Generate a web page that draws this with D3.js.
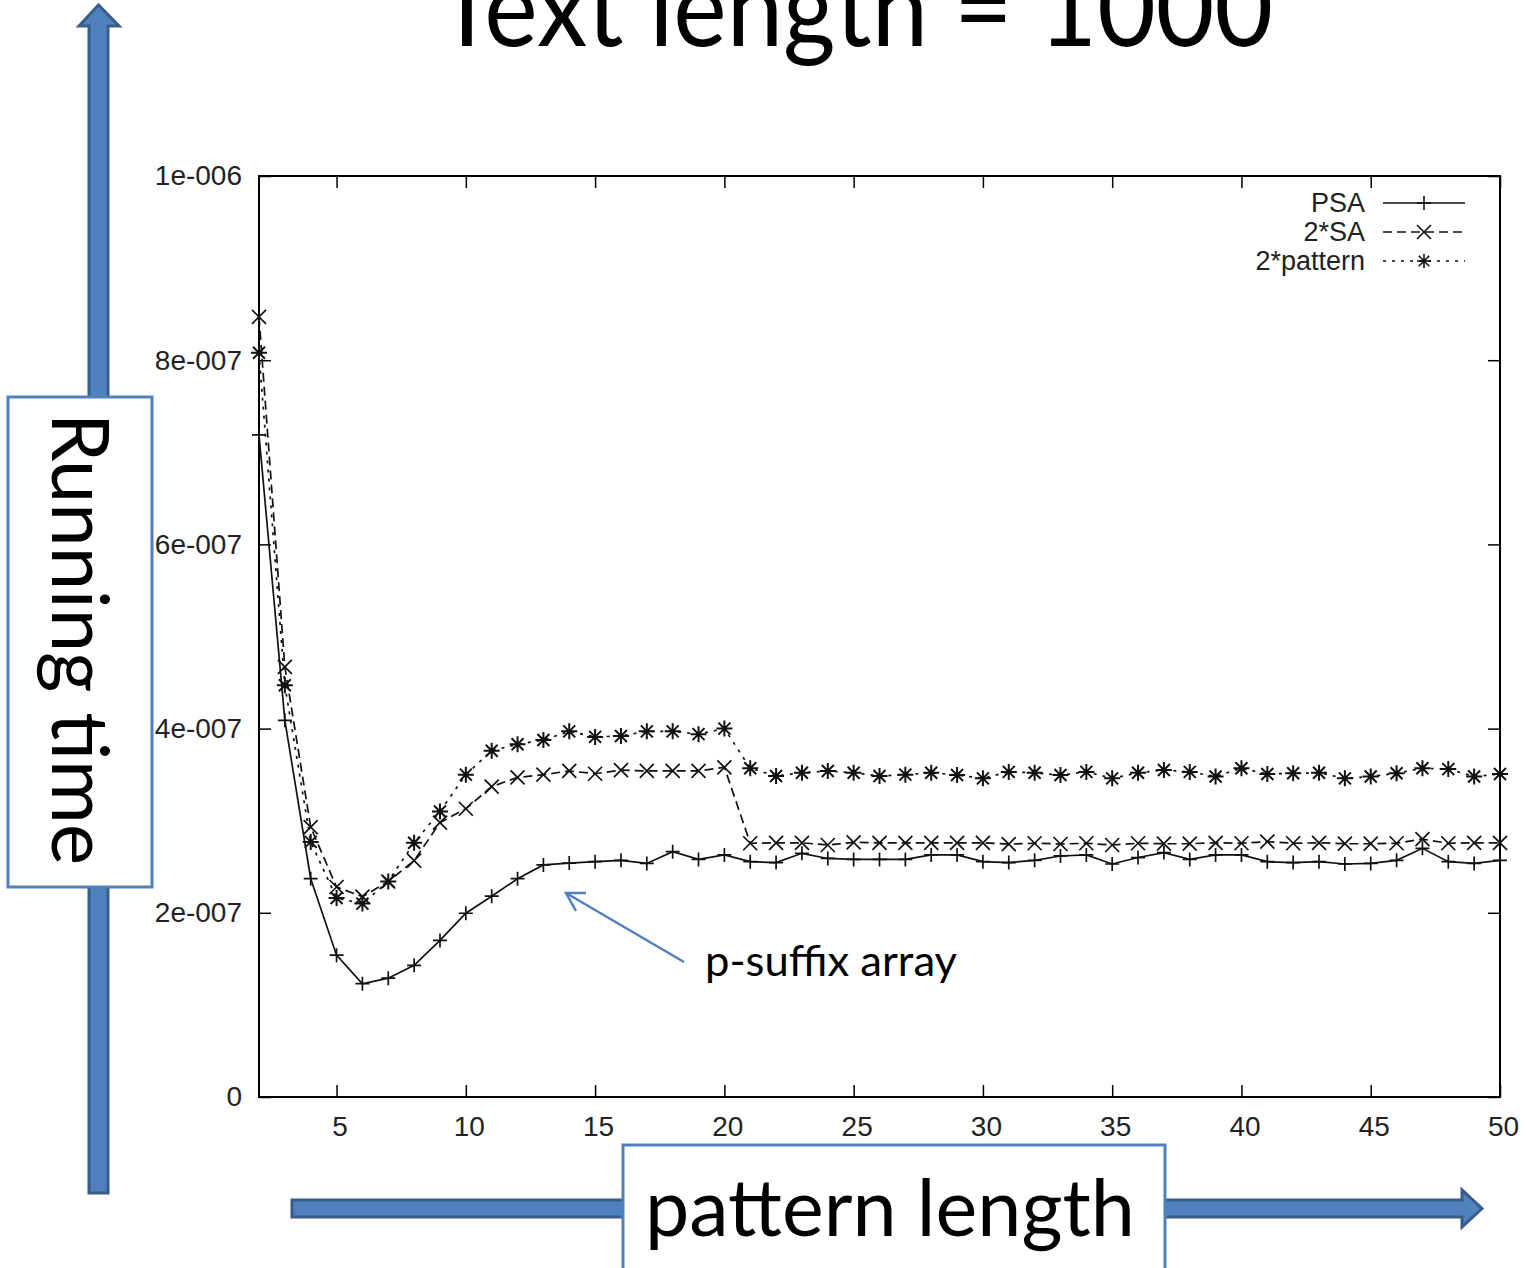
<!DOCTYPE html>
<html>
<head>
<meta charset="utf-8">
<script src="https://cdn.jsdelivr.net/npm/d3@7"></script>
<style>
  body { margin: 0; background: #fff; }
  svg { display: block; }
</style>
</head>
<body>
<div id="chart"></div>
<script>
// pattern length (x) and running times
var patternLength = [2, 3, 4, 5, 6, 7, 8, 9, 10, 11, 12, 13, 14, 15, 16, 17, 18, 19, 20, 21, 22, 23, 24, 25, 26,
    27, 28, 29, 30, 31, 32, 33, 34, 35, 36, 37, 38, 39, 40, 41, 42, 43, 44, 45, 46, 47, 48, 49, 50];

var psa = [7.19e-7, 4.09e-7, 2.37e-7, 1.54e-7, 1.23e-7, 1.29e-7, 1.43e-7, 1.70e-7, 1.995e-7, 2.18e-7, 2.37e-7,
    2.52e-7, 2.54e-7, 2.555e-7, 2.57e-7, 2.536e-7, 2.664e-7, 2.58e-7, 2.628e-7, 2.555e-7, 2.545e-7, 2.646e-7,
    2.59e-7, 2.58e-7, 2.58e-7, 2.58e-7, 2.628e-7, 2.628e-7, 2.555e-7, 2.545e-7, 2.57e-7, 2.617e-7, 2.628e-7,
    2.53e-7, 2.60e-7, 2.654e-7, 2.58e-7, 2.628e-7, 2.628e-7, 2.555e-7, 2.545e-7, 2.555e-7, 2.53e-7, 2.536e-7,
    2.57e-7, 2.70e-7, 2.555e-7, 2.536e-7, 2.57e-7];

var sa2 = [8.47e-7, 4.67e-7, 2.93e-7, 2.28e-7, 2.175e-7, 2.34e-7, 2.566e-7, 2.98e-7, 3.13e-7, 3.37e-7, 3.47e-7,
    3.50e-7, 3.54e-7, 3.51e-7, 3.55e-7, 3.54e-7, 3.54e-7, 3.54e-7, 3.58e-7, 2.755e-7, 2.76e-7, 2.76e-7,
    2.736e-7, 2.765e-7, 2.76e-7, 2.76e-7, 2.76e-7, 2.76e-7, 2.76e-7, 2.745e-7, 2.755e-7, 2.747e-7, 2.755e-7,
    2.736e-7, 2.755e-7, 2.75e-7, 2.75e-7, 2.76e-7, 2.755e-7, 2.773e-7, 2.755e-7, 2.76e-7, 2.75e-7, 2.75e-7,
    2.755e-7, 2.80e-7, 2.755e-7, 2.76e-7, 2.76e-7];

var pattern2 = [8.08e-7, 4.47e-7, 2.77e-7, 2.16e-7, 2.10e-7, 2.34e-7, 2.76e-7, 3.10e-7, 3.50e-7, 3.76e-7, 3.83e-7,
    3.876e-7, 3.97e-7, 3.91e-7, 3.92e-7, 3.97e-7, 3.97e-7, 3.94e-7, 4.00e-7, 3.57e-7, 3.485e-7, 3.52e-7,
    3.54e-7, 3.52e-7, 3.485e-7, 3.50e-7, 3.52e-7, 3.496e-7, 3.46e-7, 3.53e-7, 3.52e-7, 3.496e-7, 3.53e-7,
    3.46e-7, 3.52e-7, 3.55e-7, 3.53e-7, 3.48e-7, 3.57e-7, 3.507e-7, 3.515e-7, 3.52e-7, 3.46e-7, 3.48e-7,
    3.515e-7, 3.57e-7, 3.56e-7, 3.48e-7, 3.507e-7];

var seriesNames = ["PSA", "2*SA", "2*pattern"];
var xTicks = [5, 10, 15, 20, 25, 30, 35, 40, 45, 50];
var yTicks = [0, 2e-7, 4e-7, 6e-7, 8e-7, 1e-6];
var yTickLabels = ["0", "2e-007", "4e-007", "6e-007", "8e-007", "1e-006"];

var width = 1526, height = 1268;
var plot = {left: 259, right: 1500, top: 176, bottom: 1097};
var blue = "#4F81BD", blueDark = "#385D8A";
var calibri = "Lato, 'Open Sans', sans-serif";
var arial = "'Liberation Sans', Arial, sans-serif";

var svg = d3.select("#chart").append("svg").attr("width", width).attr("height", height);

var x = d3.scaleLinear().domain([2, 50]).range([plot.left, plot.right]);
var y = d3.scaleLinear().domain([0, 1e-6]).range([plot.bottom, plot.top]);

// ---- slide decorations (arrows + labelled boxes)
svg.append("path")
    .attr("d", "M89,1193 L89,26 L79,26 L98.5,5 L119,26 L108,26 L108,1193 Z")
    .attr("fill", blue).attr("stroke", blueDark).attr("stroke-width", 3);
svg.append("path")
    .attr("d", "M292,1200 L1462,1200 L1462,1190 L1482,1208.5 L1462,1227 L1462,1217 L292,1217 Z")
    .attr("fill", blue).attr("stroke", blueDark).attr("stroke-width", 3);

svg.append("rect").attr("x", 8).attr("y", 397).attr("width", 144).attr("height", 490)
    .attr("fill", "#fff").attr("stroke", blue).attr("stroke-width", 3);
svg.append("rect").attr("x", 623).attr("y", 1145).attr("width", 542).attr("height", 140)
    .attr("fill", "#fff").attr("stroke", blue).attr("stroke-width", 3);

svg.append("text").attr("transform", "translate(52,639) rotate(90)")
    .attr("text-anchor", "middle").style("font-family", calibri).style("font-size", "80px")
    .attr("textLength", 452).attr("lengthAdjust", "spacingAndGlyphs")
    .text("Running time");
svg.append("text").attr("x", 890).attr("y", 1236)
    .attr("text-anchor", "middle").style("font-family", calibri).style("font-size", "80px")
    .attr("textLength", 490).attr("lengthAdjust", "spacingAndGlyphs")
    .text("pattern length");

// title runs off the top edge, as on the slide
svg.append("text").attr("x", 855).attr("y", 46)
    .attr("text-anchor", "middle").style("font-family", calibri).style("font-size", "108px")
    .attr("textLength", 836).attr("lengthAdjust", "spacingAndGlyphs")
    .text("Text length = 1000");

// ---- gnuplot chart
var g = svg.append("g");

function inner(axis) { return axis.tickSizeInner(-12).tickSizeOuter(0); }

var gl = g.append("g").attr("transform", "translate(" + plot.left + ",0)")
    .call(inner(d3.axisLeft(y)).tickValues(yTicks).tickFormat(function(d, i) { return yTickLabels[i]; }).tickPadding(17));
var gr = g.append("g").attr("transform", "translate(" + plot.right + ",0)")
    .call(inner(d3.axisRight(y)).tickValues(yTicks).tickFormat(""));
var gb = g.append("g").attr("transform", "translate(0," + plot.bottom + ")")
    .call(inner(d3.axisBottom(x)).tickValues(xTicks).tickPadding(19));
var gt = g.append("g").attr("transform", "translate(0," + plot.top + ")")
    .call(inner(d3.axisTop(x)).tickValues(xTicks).tickFormat(""));

[gl, gr, gb, gt].forEach(function(a) {
    a.select(".domain").remove();
    a.selectAll(".tick line").attr("stroke", "#000").attr("stroke-width", 1.5);
    a.selectAll("text").style("font-family", arial).style("font-size", "28px").attr("fill", "#222");
});
gb.selectAll("text").attr("dx", "3");

g.append("rect").attr("x", plot.left).attr("y", plot.top)
    .attr("width", plot.right - plot.left).attr("height", plot.bottom - plot.top)
    .attr("fill", "none").attr("stroke", "#000").attr("stroke-width", 2);

var series = [
    {name: seriesNames[0], values: psa, dash: null, marker: "plus"},
    {name: seriesNames[1], values: sa2, dash: "9,5", marker: "cross"},
    {name: seriesNames[2], values: pattern2, dash: "3,6", marker: "star"}
];

function markerPath(type, s) {
    var p = "M-" + s + ",0L" + s + ",0M0,-" + s + "L0," + s;
    var c = "M-" + s + ",-" + s + "L" + s + "," + s + "M-" + s + "," + s + "L" + s + ",-" + s;
    if (type == "plus") return p;
    if (type == "cross") return c;
    var t = s * 0.75;
    return p + "M-" + t + ",-" + t + "L" + t + "," + t + "M-" + t + "," + t + "L" + t + ",-" + t;
}

var line = d3.line().x(function(d) { return x(d.x); }).y(function(d) { return y(d.y); });

series.forEach(function(s) {
    var data = patternLength.map(function(v, i) { return {x: v, y: s.values[i]}; });
    g.append("path").datum(data).attr("d", line)
        .attr("fill", "none").attr("stroke", "#111").attr("stroke-width", 1.7)
        .attr("stroke-dasharray", s.dash);
    g.selectAll(".m-" + s.marker).data(data).enter().append("path")
        .attr("class", "m-" + s.marker)
        .attr("transform", function(d) { return "translate(" + x(d.x) + "," + y(d.y) + ")"; })
        .attr("d", markerPath(s.marker, s.marker == "star" ? 8 : 7))
        .attr("fill", "none").attr("stroke", "#111").attr("stroke-width", s.marker == "star" ? 2 : 1.7);
});

// legend (top right, gnuplot style)
var legend = g.append("g");
series.forEach(function(s, i) {
    var ly = 203 + i * 29;
    legend.append("text").attr("x", 1365).attr("y", ly).attr("dy", "0.35em")
        .attr("text-anchor", "end").style("font-family", arial).style("font-size", "27px").attr("fill", "#222")
        .text(s.name);
    legend.append("line").attr("x1", 1383).attr("x2", 1465).attr("y1", ly).attr("y2", ly)
        .attr("stroke", "#111").attr("stroke-width", 1.5).attr("stroke-dasharray", s.dash);
    legend.append("path").attr("transform", "translate(1424," + ly + ")")
        .attr("d", markerPath(s.marker, 7)).attr("fill", "none").attr("stroke", "#111").attr("stroke-width", 1.6);
});

// annotation
var ann = svg.append("g");
ann.append("line").attr("x1", 684).attr("y1", 962).attr("x2", 566).attr("y2", 893)
    .attr("stroke", blue).attr("stroke-width", 2.5);
ann.append("path").attr("d", "M586,893 L566,893 L576,911")
    .attr("fill", "none").attr("stroke", blue).attr("stroke-width", 2.5);
ann.append("text").attr("x", 705).attr("y", 976)
    .style("font-family", calibri).style("font-size", "42px")
    .attr("textLength", 252).attr("lengthAdjust", "spacingAndGlyphs")
    .text("p-suffix array");
</script>
</body>
</html>
